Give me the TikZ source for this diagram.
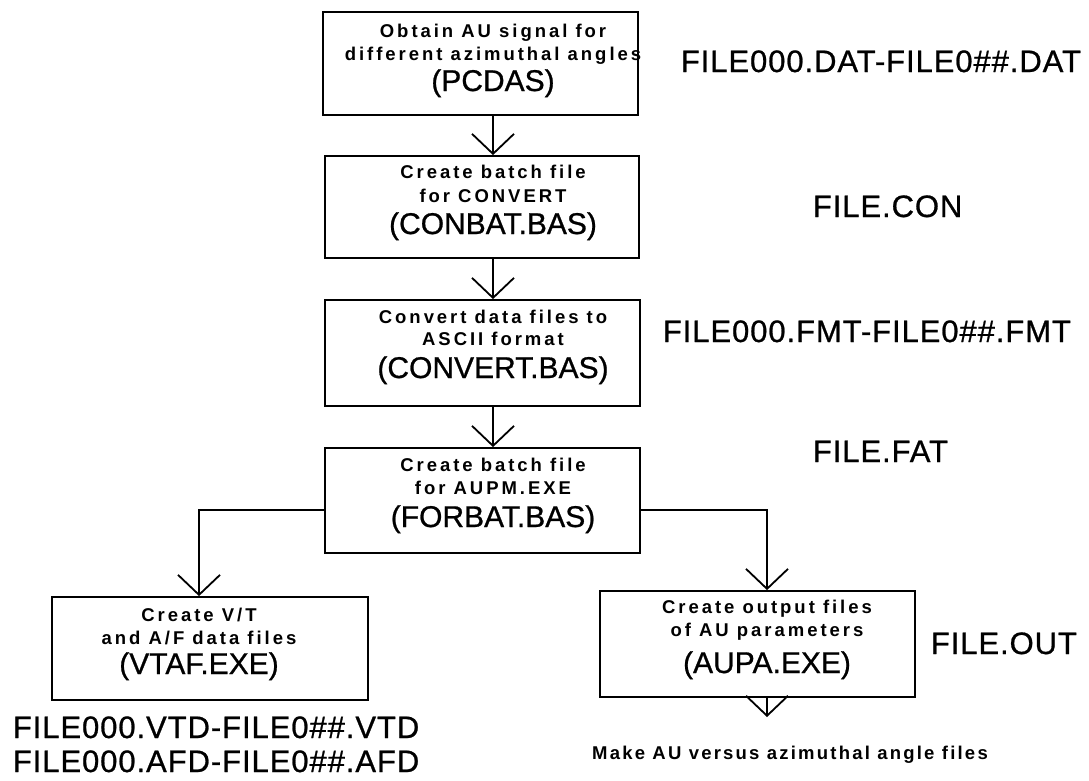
\documentclass[tikz,border=0pt]{standalone}
\usepackage{fontspec}
\setmainfont{Liberation Sans}
\usetikzlibrary{arrows.meta,calc}
\newcommand{\smallf}{\fontsize{18.5}{22}\selectfont\bfseries\addfontfeature{LetterSpace=16}}
\newcommand{\notef}{\fontsize{18.5}{22}\selectfont\bfseries\addfontfeature{LetterSpace=12}}
\newcommand{\bigf}{\fontsize{30}{36}\selectfont\addfontfeature{FakeBold=0.8}}
\newcommand{\filef}{\fontsize{31}{36}\selectfont\addfontfeature{LetterSpace=3,FakeBold=0.8}}
\begin{document}
\begin{tikzpicture}[x=1pt,y=-1pt,line width=1.8pt,
  box/.style={draw,line width=1.8pt,inner sep=0pt,minimum width=315pt,minimum height=104pt},
  sline/.style={anchor=base,inner sep=0pt,font=\smallf},
  bline/.style={anchor=base,inner sep=0pt,font=\bigf},
  flabel/.style={anchor=base west,inner sep=0pt,font=\filef},
  arr/.style={line width=1.8pt,-{Straight Barb[length=20pt,width=42pt]}}]
\useasboundingbox (0,0) rectangle (1089,780);
% boxes
\node[box,minimum height=103pt] (b1) at (480.5,63.5) {};
\node[box,minimum width=314pt,minimum height=102pt] (b2) at (482,207) {};
\node[box,minimum height=106pt] (b3) at (482.5,353) {};
\node[box,minimum height=105pt] (b4) at (482.5,500.5) {};
\node[box,minimum width=316pt,minimum height=103pt] (lb) at (210,648.5) {};
\node[box,minimum height=106pt] (rb) at (757.5,644) {};
% box texts
\node[sline] (t1a) at (493,37) {Obtain AU signal for};
\node[sline] (t1b) at (493,60) {different azimuthal angles};
\node[bline] (t1c) at (493,91) {(PCDAS)};
\node[sline] (t2a) at (493,178) {Create batch file};
\node[sline] (t2b) at (493,202) {for CONVERT};
\node[bline] (t2c) at (493,234) {(CONBAT.BAS)};
\node[sline] (t3a) at (493,323) {Convert data files to};
\node[sline] (t3b) at (493,345) {ASCII format};
\node[bline] (t3c) at (493,378) {(CONVERT.BAS)};
\node[sline] (t4a) at (493,471) {Create batch file};
\node[sline] (t4b) at (493,494) {for AUPM.EXE};
\node[bline] (t4c) at (493,527) {(FORBAT.BAS)};
\node[sline] (tla) at (199,621) {Create V/T};
\node[sline] (tlb) at (199,644) {and A/F data files};
\node[bline] (tlc) at (199,674) {(VTAF.EXE)};
\node[sline] (tra) at (767,613) {Create output files};
\node[sline] (trb) at (767,636) {of AU parameters};
\node[bline] (trc) at (767,673) {(AUPA.EXE)};
% file labels
\node[flabel] (f1) at (680,72) {FILE000.DAT-FILE0\#\#.DAT};
\node[flabel] (f2) at (812,217) {FILE.CON};
\node[flabel] (f3) at (662,342) {FILE000.FMT-FILE0\#\#.FMT};
\node[flabel] (f4) at (812,462) {FILE.FAT};
\node[flabel] (f5) at (930,654) {FILE.OUT};
\node[flabel] (f6) at (12,738) {FILE000.VTD-FILE0\#\#.VTD};
\node[flabel] (f7) at (12,772) {FILE000.AFD-FILE0\#\#.AFD};
\node[anchor=base,inner sep=0pt,font=\notef] (mk) at (790,759) {Make AU versus azimuthal angle files};
% connector helpers
\coordinate (cx) at (493,0);
\coordinate (lx) at (199,0);
\coordinate (rx) at (767,0);
\coordinate (jy) at (0,510);
\coordinate (endp) at (767,717);
% connectors
\draw[arr] (b1.south -| cx) -- (b2.north -| cx);
\draw[arr] (b2.south -| cx) -- (b3.north -| cx);
\draw[arr] (b3.south -| cx) -- (b4.north -| cx);
\draw[arr] (b4.west |- jy) -| (lb.north -| lx);
\draw[arr] (b4.east |- jy) -| (rb.north -| rx);
\draw[arr] (rb.south -| rx) -- (endp);
\end{tikzpicture}
\end{document}
